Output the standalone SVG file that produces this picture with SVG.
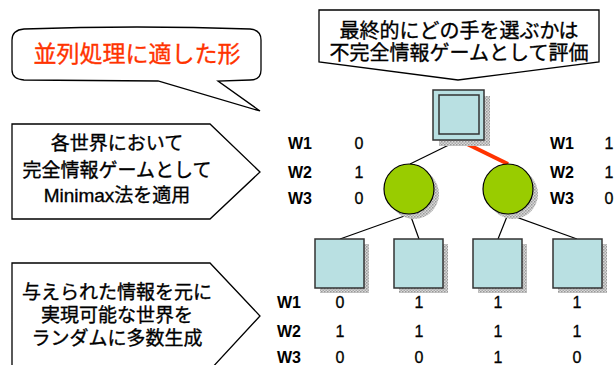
<svg xmlns="http://www.w3.org/2000/svg" width="616" height="365" viewBox="0 0 616 365">
<style>
.jp{font-family:"Liberation Sans","Noto Sans CJK JP",sans-serif;fill:#000;text-anchor:middle;stroke:#000;stroke-width:0.35}
.w{font-family:"Liberation Sans",Arial,sans-serif;font-size:16px;font-weight:bold;fill:#000}
.v{font-family:"Liberation Sans",Arial,sans-serif;font-size:16px;fill:#000;text-anchor:middle;stroke:#000;stroke-width:0.3}
.box{fill:#fff;stroke:#000;stroke-width:1.3}
.sq{fill:#b9e0e2;stroke:#333;stroke-width:1.5}
.ci{fill:#99cc00;stroke:#000;stroke-width:1.2}
.sh{fill:url(#dots)}
.edge{stroke:#000;stroke-width:1.2;fill:none}
</style>
<defs>
<pattern id="dots" width="3" height="3" patternUnits="userSpaceOnUse">
<rect width="3" height="3" fill="#d8d8d8"/>
<rect width="1.5" height="1.5" fill="#999"/>
<rect x="1.5" y="1.5" width="1.5" height="1.5" fill="#aaa"/>
</pattern>
</defs>

<g id="bubble">
<path class="box" d="M24,29 Q137,25 250,29 Q261,30 261,40 L261,70 Q261,80 250,80 L218,81 L260,111 L158,81 L24,80 Q12,79 12,70 L12,40 Q12,30 24,29 Z"/>
<text class="jp" x="137" y="62" font-size="23" style="fill:#ff3300;stroke:#ff3300">並列処理に適した形</text>
</g>

<g id="callout-top">
<path class="box" d="M319,10 L599,10 L599,62 L458,80 L319,62 Z"/>
<text class="jp" x="459" y="38" font-size="20">最終的にどの手を選ぶかは</text>
<text class="jp" x="459" y="60" font-size="20">不完全情報ゲームとして評価</text>
</g>

<g id="callout-minimax">
<path class="box" d="M12,124 L210,124 L260,172 L210,219 L12,219 Z"/>
<text class="jp" x="117" y="150" font-size="19">各世界において</text>
<text class="jp" x="117" y="177" font-size="19">完全情報ゲームとして</text>
<text class="jp" x="117" y="202" font-size="19">Minimax法を適用</text>
</g>

<g id="callout-generate">
<path class="box" d="M12,263 L210,263 L260,316 L210,370 L12,370 Z"/>
<text class="jp" x="117" y="299" font-size="19">与えられた情報を元に</text>
<text class="jp" x="117" y="322" font-size="19">実現可能な世界を</text>
<text class="jp" x="117" y="345" font-size="19">ランダムに多数生成</text>
</g>

<g id="connectors">
<line class="edge" x1="459" y1="140" x2="410" y2="164"/>
<line x1="459" y1="140" x2="508" y2="164" stroke="#ff3300" stroke-width="4"/>
<line class="edge" x1="410" y1="214" x2="340" y2="239"/>
<line class="edge" x1="410" y1="214" x2="419" y2="239"/>
<line class="edge" x1="508" y1="214" x2="498" y2="239"/>
<line class="edge" x1="508" y1="214" x2="577" y2="239"/>
</g>

<g id="root">
<rect class="sh" x="439" y="96" width="51" height="50"/>
<rect class="sq" x="433" y="90" width="51" height="50"/>
<rect class="sq" x="439" y="95" width="40" height="39"/>
</g>

<g id="chance-left">
<circle class="sh" cx="414" cy="194" r="25"/>
<circle class="ci" cx="409" cy="189" r="25"/>
</g>
<g id="chance-right">
<circle class="sh" cx="513" cy="194" r="25"/>
<circle class="ci" cx="508" cy="189" r="25"/>
</g>

<g id="leaf1">
<rect class="sh" x="320" y="244" width="49" height="49"/>
<rect class="sq" x="315" y="239" width="49" height="49"/>
</g>
<g id="leaf2">
<rect class="sh" x="399" y="244" width="49" height="49"/>
<rect class="sq" x="394" y="239" width="49" height="49"/>
</g>
<g id="leaf3">
<rect class="sh" x="478" y="244" width="49" height="49"/>
<rect class="sq" x="473" y="239" width="49" height="49"/>
</g>
<g id="leaf4">
<rect class="sh" x="558" y="244" width="49" height="49"/>
<rect class="sq" x="553" y="239" width="49" height="49"/>
</g>

<g id="labels-left">
<text class="w" x="288" y="149">W1</text>
<text class="w" x="288" y="178">W2</text>
<text class="w" x="288" y="204">W3</text>
<text class="v" x="359" y="149">0</text>
<text class="v" x="359" y="178">1</text>
<text class="v" x="359" y="204">0</text>
</g>
<g id="labels-right">
<text class="w" x="550" y="149">W1</text>
<text class="w" x="550" y="178">W2</text>
<text class="w" x="550" y="204">W3</text>
<text class="v" x="609" y="149">1</text>
<text class="v" x="609" y="178">1</text>
<text class="v" x="609" y="204">0</text>
</g>
<g id="labels-bottom">
<text class="w" x="277" y="308">W1</text>
<text class="w" x="277" y="337">W2</text>
<text class="w" x="277" y="363">W3</text>
<text class="v" x="340" y="308">0</text>
<text class="v" x="419" y="308">1</text>
<text class="v" x="498" y="308">1</text>
<text class="v" x="577" y="308">1</text>
<text class="v" x="340" y="337">1</text>
<text class="v" x="419" y="337">1</text>
<text class="v" x="498" y="337">1</text>
<text class="v" x="577" y="337">1</text>
<text class="v" x="340" y="363">0</text>
<text class="v" x="419" y="363">0</text>
<text class="v" x="498" y="363">1</text>
<text class="v" x="577" y="363">0</text>
</g>
</svg>
